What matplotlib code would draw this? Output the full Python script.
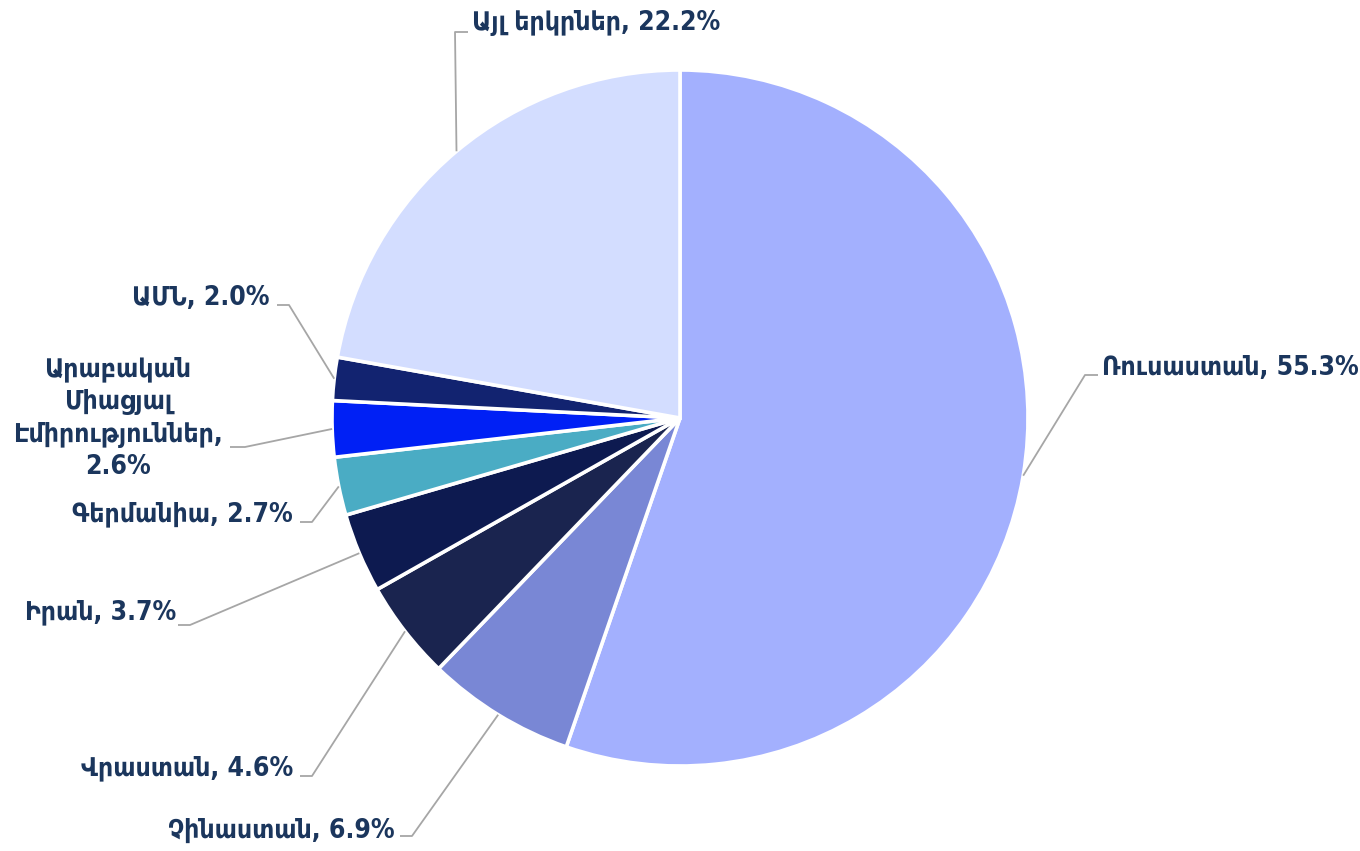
import matplotlib.pyplot as plt
import numpy as np

# Data
countries = ['Ռուսաստան', 'Չինաստան', 'Վրաստան', 'Իրան', 'Գերմանիա',
             'Արաբական\nՄիացյալ\nԷմիրություններ,\n2.6%', 'ԱՄՆ', 'Այլ երկրներ']
shares = [55.3, 6.9, 4.6, 3.7, 2.7, 2.6, 2.0, 22.2]
colors = ['#a3b0fe', '#7987d5', '#1a244f', '#0d1a50', '#4aacc4',
          '#0020f5', '#122370', '#d3ddff']

# label placement (pixels in the 1360x851 image): text anchor, elbow, align
label_pos = [
    ((1102, 368), (1085, 375), 'left'),
    ((395, 831), (412, 836), 'right'),
    ((293, 768), (312, 776), 'right'),
    ((176, 612), (190, 625), 'right'),
    ((293, 514), (312, 522), 'right'),
    ((118, 418), (245, 447), 'center'),
    ((270, 298), (289, 305), 'right'),
    ((472, 22), (455, 32), 'left'),
]

cx, cy, R = 680, 418, 348
W, H = 1360, 851

def to_data(px, py):
    return (px - cx) / R, (cy - py) / R

fig = plt.figure(figsize=(13.6, 8.51), dpi=100)
ax = fig.add_axes([0, 0, 1, 1])

wedges, _ = ax.pie(shares, colors=colors, startangle=90, counterclock=False,
                   radius=1.0, wedgeprops=dict(edgecolor='white', linewidth=2.6))

# pie() resets the limits, so set them afterwards
ax.set_xlim(-cx / R, (W - cx) / R)
ax.set_ylim(-(H - cy) / R, cy / R)
ax.set_aspect('equal')
ax.axis('off')

text_color = '#1b365d'
line_color = '#a6a6a6'
for i, w in enumerate(wedges):
    ang = np.deg2rad((w.theta1 + w.theta2) / 2)
    x0, y0 = np.cos(ang), np.sin(ang)
    (tx, ty), (ex, ey), ha = label_pos[i]
    exd, eyd = to_data(ex, ey)
    if ha == 'left':
        endx = to_data(ex + 13, ey)[0]
    elif ha == 'right':
        endx = to_data(ex - 12, ey)[0]
    else:
        endx = to_data(ex - 15, ey)[0]
    ax.plot([x0, exd, endx], [y0, eyd, eyd], color=line_color, lw=1.3,
            solid_capstyle='butt')
    if ha == 'center':
        txt = countries[i]
    else:
        txt = f'{countries[i]}, {shares[i]:.1f}%'
    txd, tyd = to_data(tx, ty)
    ax.text(txd, tyd, txt, ha=ha, va='center', ma='center', color=text_color,
            fontsize=19, fontweight='bold', family='DejaVu Sans',
            fontstretch='condensed', linespacing=1.33)

fig.savefig('out.png', dpi=100)
